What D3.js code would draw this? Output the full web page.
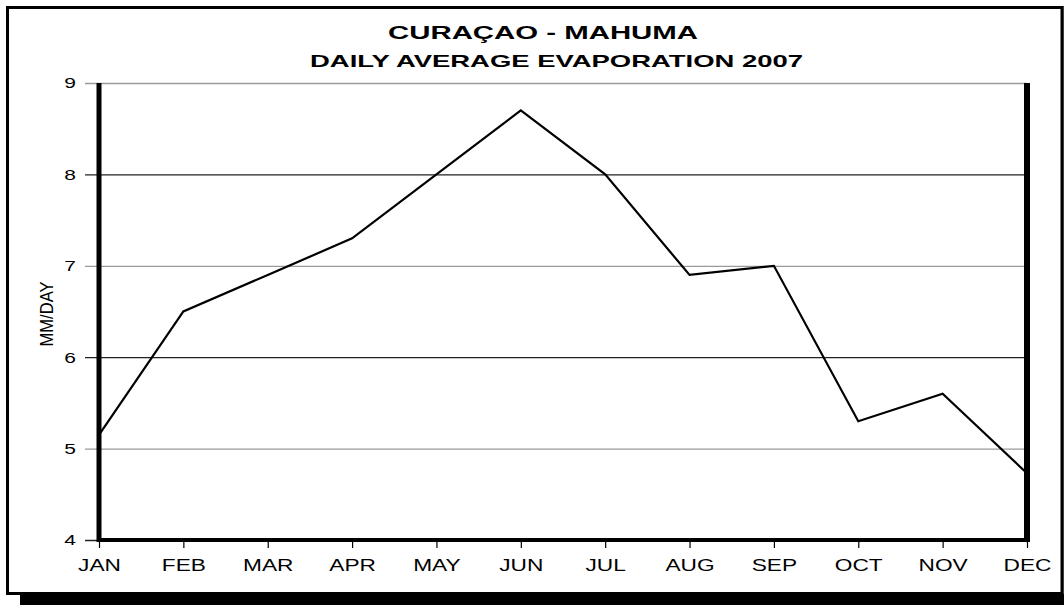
<!DOCTYPE html>
<html>
<head>
<meta charset="utf-8">
<script src="https://cdn.jsdelivr.net/npm/d3@7"></script>
<style>
    body { margin: 0; background: #fff; }
    text { font-family: "Liberation Sans", Arial, sans-serif; fill: #000; }
</style>
</head>
<body>
<div id="chart"></div>
<script>
// Chart data
const months = ['JAN', 'FEB', 'MAR', 'APR', 'MAY', 'JUN', 'JUL', 'AUG', 'SEP', 'OCT', 'NOV', 'DEC'];
const evaporation = [5.15, 6.5, 6.9, 7.3, 8.0, 8.7, 8.0, 6.9, 7.0, 5.3, 5.6, 4.73];
const yTicks = [4, 5, 6, 7, 8, 9];
const titleText = 'CURAÇAO - MAHUMA';
const subtitleText = 'DAILY AVERAGE EVAPORATION 2007';
const yLabel = 'MM/DAY';

function drawChart() {
    const W = 1064, H = 605;
    const left = 99, right = 1027, top = 83, bottom = 540;

    const svg = d3.select('#chart').append('svg')
        .attr('width', W).attr('height', H);

    // drop shadow + frame
    svg.append('rect').attr('x', 20).attr('y', 594).attr('width', W - 20).attr('height', 11).attr('fill', '#000');
    svg.append('rect').attr('x', 7.5).attr('y', 7.5).attr('width', 1054.5).attr('height', 586)
        .attr('fill', '#fff').attr('stroke', '#000').attr('stroke-width', 3);
    svg.append('line').attr('x1', 1062.5).attr('x2', 1062.5).attr('y1', 6).attr('y2', 594)
        .attr('stroke', '#000').attr('stroke-width', 2);

    // scales
    const x = d3.scalePoint().domain(months).range([left, right]);
    const y = d3.scaleLinear().domain([4, 9]).range([bottom, top]);

    // gridlines (alternating grey / black)
    svg.append('g').selectAll('line').data(yTicks).join('line')
        .attr('x1', left - 14).attr('x2', right)
        .attr('y1', d => y(d) + 0.5).attr('y2', d => y(d) + 0.5)
        .attr('stroke', d => d % 2 ? '#9a9a9a' : '#222')
        .attr('stroke-width', 1.3);

    // y axis labels
    const yAxis = svg.append('g').attr('transform', `translate(${left},0)`)
        .call(d3.axisLeft(y).tickValues(yTicks).tickSize(0).tickPadding(23).tickFormat(d3.format('d')));
    yAxis.select('.domain').remove();
    yAxis.selectAll('text').style('font-size', '15px')
        .each(function() {
            d3.select(this).attr('x', -23 / 1.4).attr('transform', 'scale(1.4,1)');
        });

    // x axis
    const xAxis = svg.append('g').attr('transform', `translate(0,${bottom})`)
        .call(d3.axisBottom(x).tickSize(8).tickPadding(11.5));
    xAxis.select('.domain').remove();
    xAxis.selectAll('line').attr('stroke', '#000').attr('stroke-width', 1.2);
    xAxis.selectAll('text').style('font-size', '16px').attr('transform', 'scale(1.42,1)');

    // heavy frame of plot area
    svg.append('line').attr('x1', left).attr('x2', left).attr('y1', top).attr('y2', bottom + 2)
        .attr('stroke', '#000').attr('stroke-width', 5);
    svg.append('line').attr('x1', right).attr('x2', right).attr('y1', top).attr('y2', bottom + 2)
        .attr('stroke', '#000').attr('stroke-width', 6);
    svg.append('line').attr('x1', left - 2).attr('x2', right + 3).attr('y1', bottom).attr('y2', bottom)
        .attr('stroke', '#000').attr('stroke-width', 4);

    // data line
    const line = d3.line().x((d, i) => x(months[i])).y(d => y(d));
    svg.append('path').datum(evaporation).attr('d', line)
        .attr('fill', 'none').attr('stroke', '#000').attr('stroke-width', 2.2)
        .attr('stroke-linejoin', 'miter');

    // titles
    svg.append('text').attr('x', 388).attr('y', 39)
        .attr('textLength', 310).attr('lengthAdjust', 'spacingAndGlyphs')
        .style('font-size', '18px').style('font-weight', 'bold').text(titleText);
    svg.append('text').attr('x', 310).attr('y', 67)
        .attr('textLength', 493).attr('lengthAdjust', 'spacingAndGlyphs')
        .style('font-size', '17px').style('font-weight', 'bold').text(subtitleText);

    // y axis title
    svg.append('text').attr('transform', 'translate(53,314) rotate(-90)')
        .attr('text-anchor', 'middle')
        .attr('textLength', 65).attr('lengthAdjust', 'spacingAndGlyphs')
        .style('font-family', '"Liberation Sans Narrow", "Liberation Sans", Arial, sans-serif')
        .style('font-size', '18px').text(yLabel);
}

drawChart();
</script>
</body>
</html>
